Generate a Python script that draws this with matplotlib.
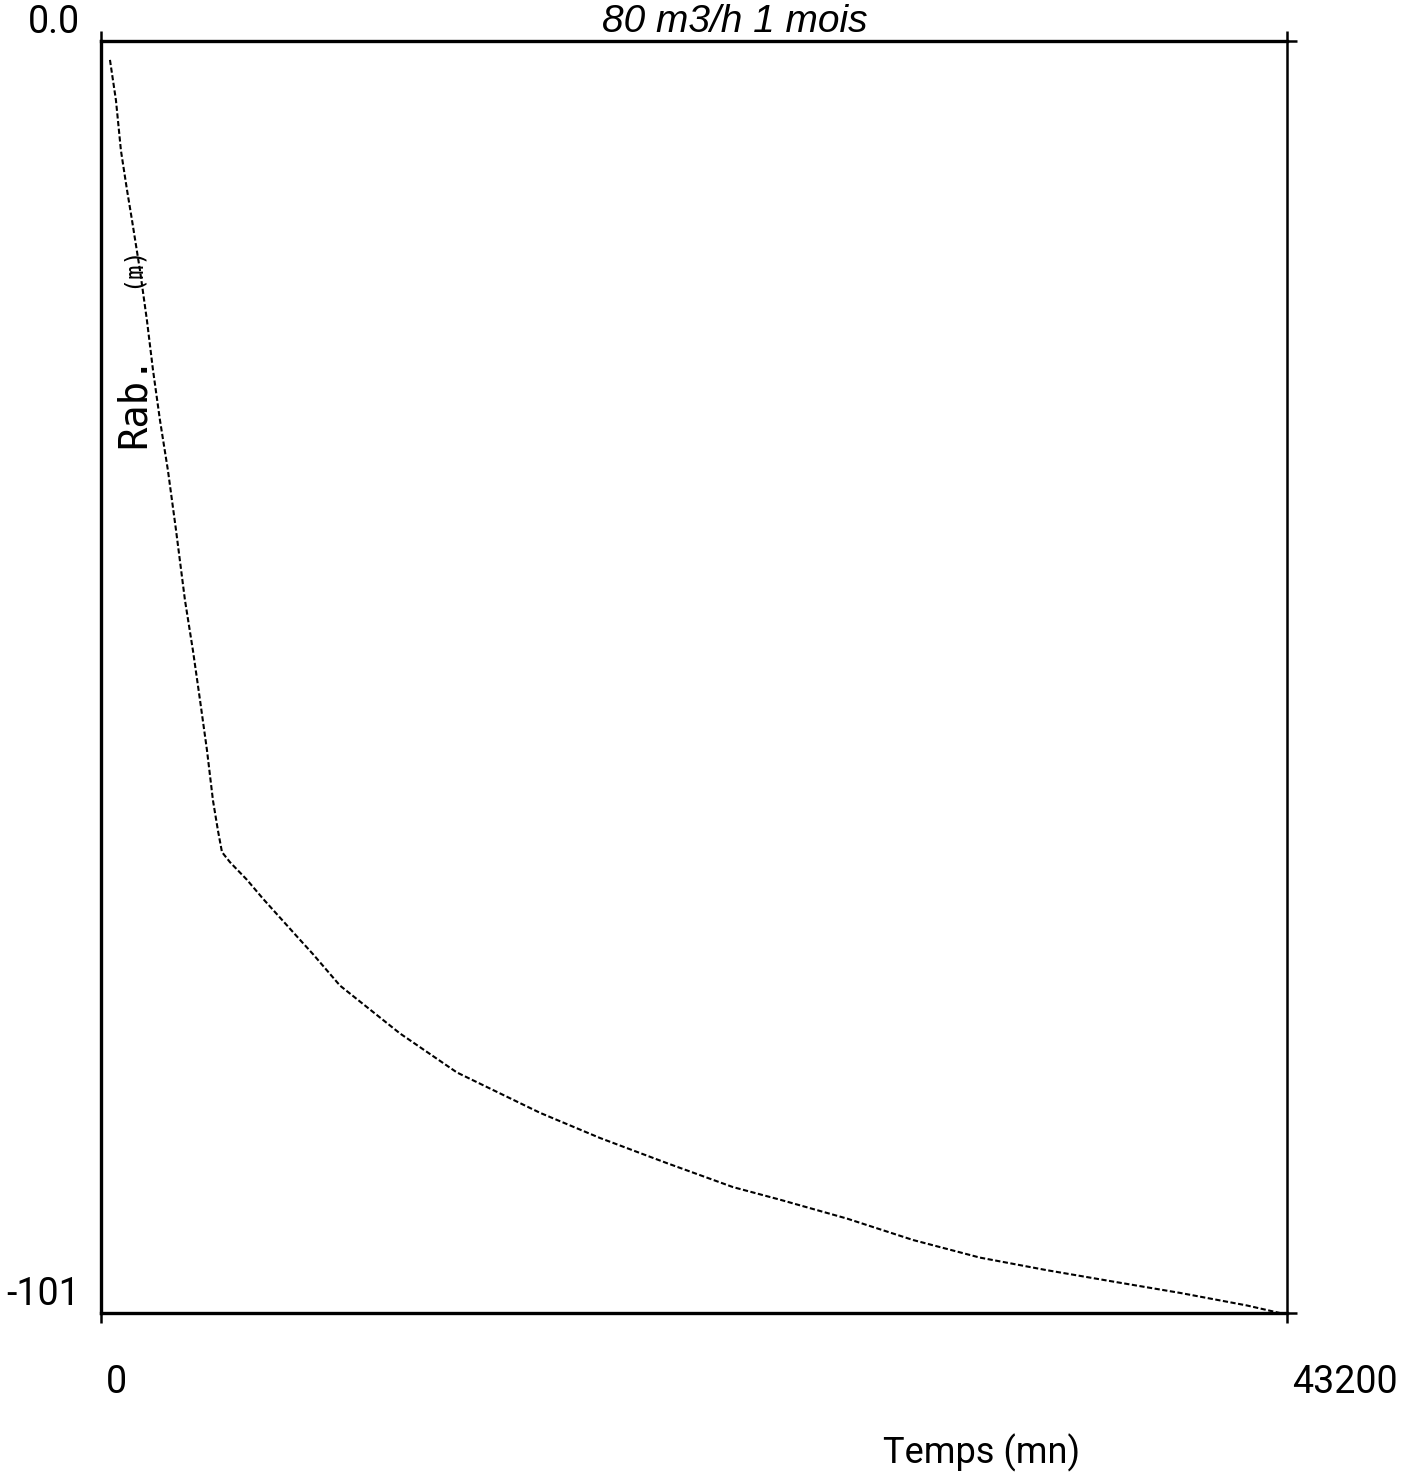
import matplotlib
matplotlib.use("Agg")
import matplotlib.pyplot as plt
from matplotlib.transforms import ScaledTranslation

# values
temps = [328, 546, 728, 947, 1129, 1421, 1676, 1894, 2149, 2440, 2732, 3060,
         3351, 3606, 3861, 4080, 4262, 4408, 4699, 5318, 5901, 6520, 7139,
         7722, 8706, 10891, 12967, 15990, 18176, 20617, 23021, 24733, 27173,
         29577, 32018, 34458, 36862, 39302, 41743, 42945]
rab = [-1.5, -4.7, -8.7, -11.8, -14.2, -18.2, -22.2, -26.1, -30.1, -34.1,
       -38.8, -44.4, -48.4, -52.3, -56.3, -60.3, -62.7, -64.4, -65.2, -66.6,
       -68.1, -69.6, -71.1, -72.5, -75.0, -78.8, -81.9, -85.1, -87.1, -89.1,
       -91.0, -92.0, -93.5, -95.2, -96.6, -97.6, -98.5, -99.4, -100.4, -101.0]

title = "80 m3/h 1 mois"
x_ticks = [0, 43200]
x_tick_labels = ["0", "43200"]
y_ticks = [-101, 0]
y_tick_labels = ["-101", "0.0"]
x_label = "Temps (mn)"
y_label = "Rab."
y_unit = "(m)"

plotter_font = ["Roboto", "DejaVu Sans"]

fig = plt.figure(figsize=(14.06, 14.75), dpi=100)
ax = fig.add_axes([0.0718, 0.1098, 0.8436, 0.8624])

ax.plot(temps, rab, color="black", lw=1.5, ls=(0, (2.5, 1.2)))
ax.set_xlim(x_ticks[0], x_ticks[1])
ax.set_ylim(y_ticks[0], y_ticks[1])

for side in ["top", "left", "bottom"]:
    ax.spines[side].set_linewidth(2.4)
ax.spines["right"].set_linewidth(1.8)

ax.set_xticks(x_ticks, labels=x_tick_labels)
ax.set_yticks(y_ticks, labels=y_tick_labels)
ax.tick_params(axis="both", direction="out", length=7, width=1.8,
               labelsize=27, top=True, right=True)
ax.tick_params(axis="y", left=False, pad=8)
ax.tick_params(axis="x", pad=30)

shift = ScaledTranslation(5 / 100, 0, fig.dpi_scale_trans)
for lbl in ax.get_xticklabels():
    lbl.set_family(plotter_font)
    lbl.set_ha("left")
    lbl.set_transform(lbl.get_transform() + shift)
for lbl in ax.get_yticklabels():
    lbl.set_family(plotter_font)
    lbl.set_va("bottom")

ax.text(0.0278, 0.717, y_label, transform=ax.transAxes, rotation=90,
        ha="center", va="center", fontsize=28, family="DejaVu Sans Mono")
ax.text(0.026, 0.823, y_unit, transform=ax.transAxes, rotation=90,
        ha="center", va="center", fontsize=17, family="DejaVu Sans Mono")

fig.text(0.698, 0.0081, x_label, ha="center", va="baseline", fontsize=26,
         family=plotter_font)
fig.text(0.5228, 0.9783, title, ha="center", va="baseline", fontsize=28,
         style="italic", family=["Liberation Sans", "DejaVu Sans"])

fig.savefig("out.png", dpi=100)
